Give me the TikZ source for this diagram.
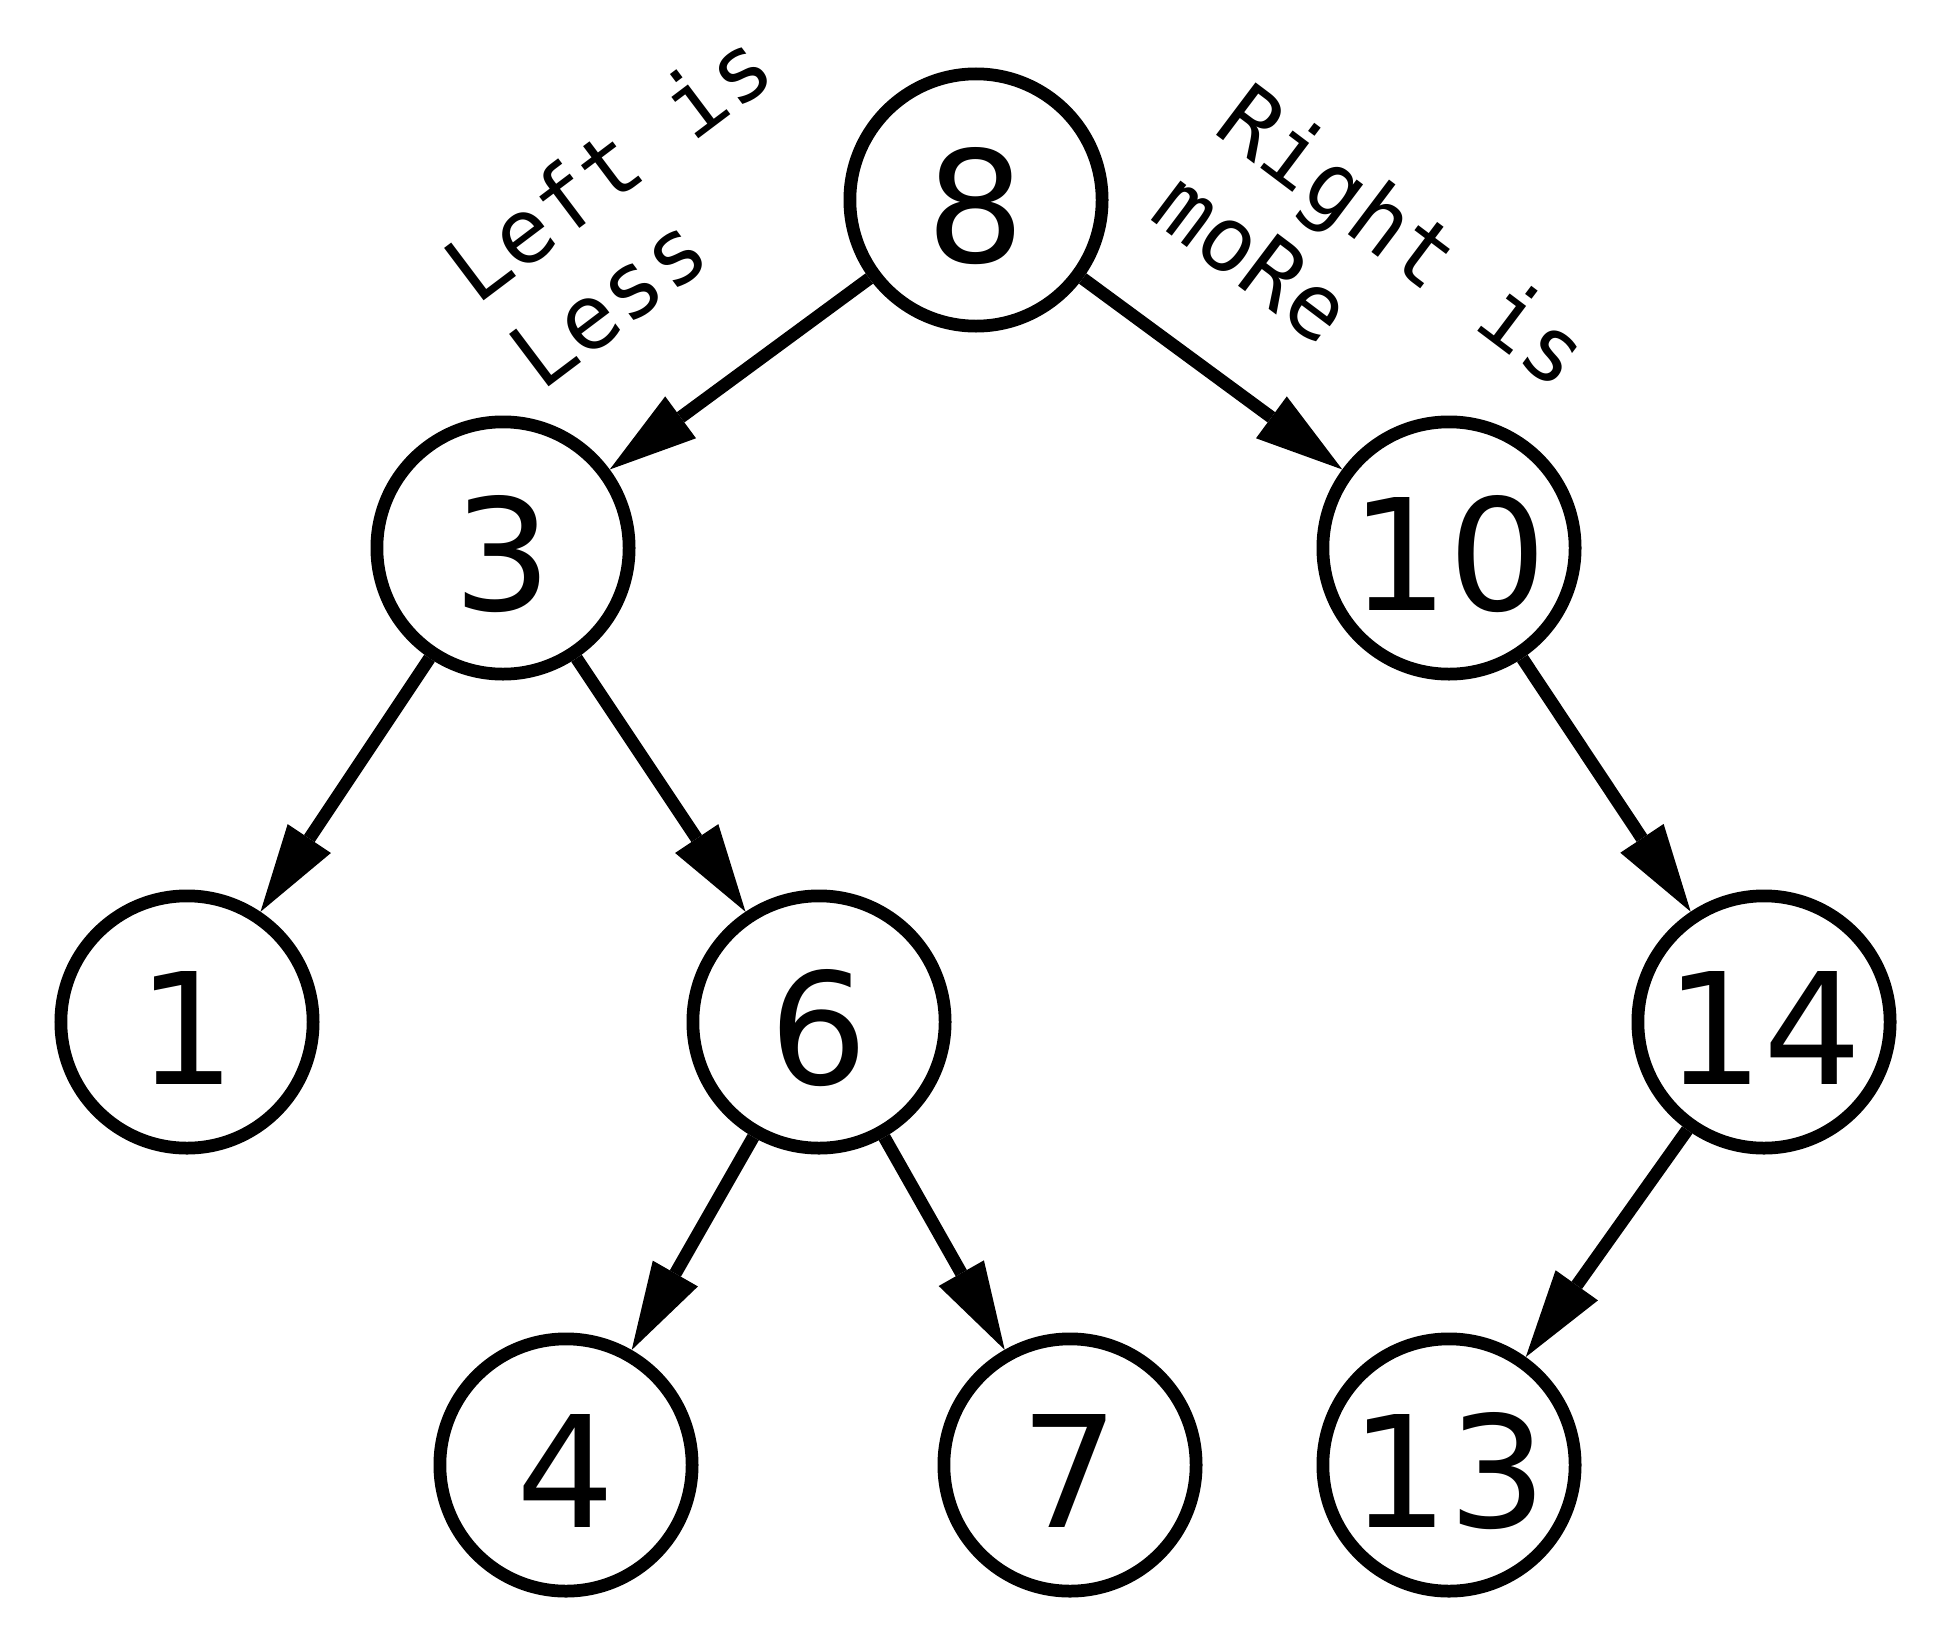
\documentclass[tikz,border=0pt]{standalone}
\usepackage{fontspec}
\setmainfont{DejaVu Sans}
\newfontfamily\labelmono{DejaVu Sans Mono}
\usetikzlibrary{arrows.meta}
\newcommand{\lowdigit}[1]{\raisebox{-2.4pt}[\height][\depth]{#1}}
\begin{document}
\begin{tikzpicture}[x=0.4pt,y=-0.4pt,
  treenode/.style={circle,draw=black,line width=5.1pt,minimum size=100.9pt,inner sep=0pt,
    font=\fontsize{62pt}{72pt}\selectfont},
  treeedge/.style={line width=5.1pt,-{Triangle[length=35.2pt,width=20.8pt,line width=0pt]}},
  edgelabel/.style={inner sep=0pt,anchor=base west,font=\labelmono\fontsize{36pt}{43pt}\selectfont}]
\useasboundingbox (0,0) rectangle (1948,1646);
\node[treenode] (n8) at (976,200) {\lowdigit{8}};
\node[treenode] (n3) at (503,548) {\lowdigit{3}};
\node[treenode] (n10) at (1449,548) {\lowdigit{10}};
\node[treenode] (n1) at (187,1022) {\lowdigit{1}};
\node[treenode] (n6) at (819,1022) {\lowdigit{6}};
\node[treenode] (n14) at (1764,1022) {\lowdigit{14}};
\node[treenode] (n4) at (566,1465) {\lowdigit{4}};
\node[treenode] (n7) at (1070,1465) {\lowdigit{7}};
\node[treenode] (n13) at (1449,1465) {\lowdigit{13}};
\draw[treeedge] (n8) -- (n3);
\draw[treeedge] (n8) -- (n10);
\draw[treeedge] (n3) -- (n1);
\draw[treeedge] (n3) -- (n6);
\draw[treeedge] (n10) -- (n14);
\draw[treeedge] (n6) -- (n4);
\draw[treeedge] (n6) -- (n7);
\draw[treeedge] (n14) -- (n13);
\node[edgelabel,rotate=37] (l1) at (476,307) {Left is};
\node[edgelabel,rotate=37] (l2) at (541,393) {Less};
\node[edgelabel,rotate=-37] (r1) at (1211,131) {Right is};
\node[edgelabel,rotate=-37] (r2) at (1147,217) {moRe};
\end{tikzpicture}
\end{document}
